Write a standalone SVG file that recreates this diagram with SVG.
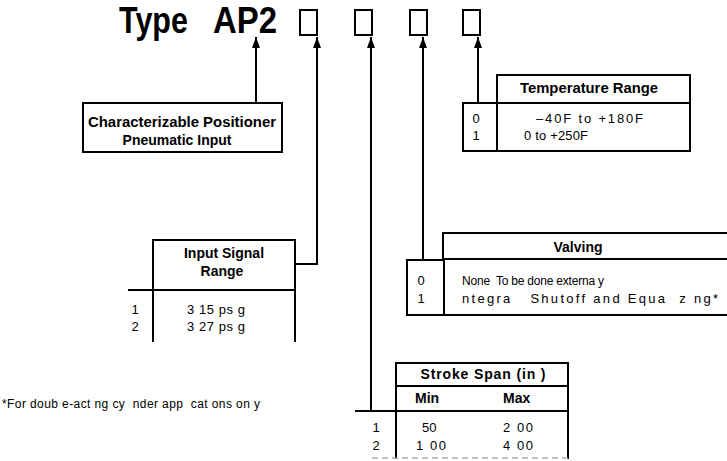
<svg xmlns="http://www.w3.org/2000/svg" width="727" height="461" viewBox="0 0 727 461">
<defs>
<marker id="ah" markerUnits="userSpaceOnUse" markerWidth="12" markerHeight="8" refX="11" refY="4" orient="auto">
<path d="M0,0 L11,4 L0,8 z" fill="#000"/>
</marker>
<style>
.ln{fill:none;stroke:#000;stroke-width:2;stroke-linejoin:miter}
.t{font-family:"Liberation Sans",Arial,sans-serif;font-size:13px;fill:#000}
.b{font-weight:bold;font-size:14px}
.m{text-anchor:middle}
.title{font-family:"Liberation Sans",Arial,sans-serif;font-size:36px;font-weight:bold;fill:#000}
</style>
</defs>
<rect width="727" height="461" fill="#fff"/>

<g id="title">
<text class="title" x="119" y="33" textLength="69" lengthAdjust="spacingAndGlyphs">Type</text>
<text class="title" x="213" y="33" textLength="64" lengthAdjust="spacingAndGlyphs">AP2</text>
<rect class="ln" x="300" y="10" width="17" height="25"/>
<rect class="ln" x="355" y="10" width="17" height="25"/>
<rect class="ln" x="410" y="10" width="17" height="25"/>
<rect class="ln" x="463" y="10" width="17" height="25"/>
</g>

<g id="connectors">
<path class="ln" d="M256,103 V37" marker-end="url(#ah)"/>
<path class="ln" d="M295,264 H317 V37" marker-end="url(#ah)"/>
<path class="ln" d="M371,411 V37" marker-end="url(#ah)"/>
<path class="ln" d="M423,260 V37" marker-end="url(#ah)"/>
<path class="ln" d="M478,103 V37" marker-end="url(#ah)"/>
</g>

<g id="positioner">
<rect class="ln" x="83" y="103" width="199" height="49"/>
<text class="t b m" x="182" y="127" textLength="188" lengthAdjust="spacingAndGlyphs">Characterizable Positioner</text>
<text class="t b m" x="177" y="145">Pneumatic Input</text>
</g>

<g id="input-signal">
<rect class="ln" x="153" y="240" width="142" height="50"/>
<path class="ln" d="M128,290 H295 M153,290 V342 M295,290 V342"/>
<text class="t b m" x="224" y="258">Input Signal</text>
<text class="t b m" x="222" y="276">Range</text>
<text class="t m" x="135" y="314">1</text>
<text class="t m" x="135" y="331">2</text>
<text class="t" x="187" y="314" xml:space="preserve" textLength="58" lengthAdjust="spacing">3 15 ps g</text>
<text class="t" x="187" y="331" xml:space="preserve" textLength="58" lengthAdjust="spacing">3 27 ps g</text>
</g>

<g id="temperature">
<rect class="ln" x="497" y="75" width="193" height="28"/>
<rect class="ln" x="463" y="103" width="34" height="48"/>
<rect class="ln" x="497" y="103" width="193" height="48"/>
<text class="t b m" x="589" y="93" textLength="138" lengthAdjust="spacingAndGlyphs">Temperature Range</text>
<text class="t m" x="476" y="123">0</text>
<text class="t m" x="476" y="140">1</text>
<text class="t" x="536" y="123" textLength="107" lengthAdjust="spacing">–40F to +180F</text>
<text class="t" x="524" y="140" textLength="64" lengthAdjust="spacing">0 to +250F</text>
</g>

<g id="valving">
<path class="ln" d="M730,233 H443 V260 M443,259 H730 M444,315 H730"/>
<rect class="ln" x="407" y="260" width="37" height="55"/>
<text class="t b m" x="578" y="252">Valving</text>
<text class="t m" x="421" y="285">0</text>
<text class="t m" x="421" y="303">1</text>
<text class="t" x="462" y="285" style="font-size:12px" xml:space="preserve" textLength="142" lengthAdjust="spacing">None  To be done externa y</text>
<text class="t" x="462" y="303" xml:space="preserve" textLength="256" lengthAdjust="spacing">ntegra   Shutoff and Equa  z ng*</text>
</g>

<g id="stroke-span">
<rect class="ln" x="396" y="363" width="172" height="23"/>
<path class="ln" d="M396,386 V411 M568,386 V411 M355,411 H568 M396,411 V459 M568,411 V459"/>
<path d="M372,458 H568" stroke="#aaa" stroke-width="1.5" stroke-dasharray="6,4" fill="none"/>
<text class="t b m" x="483" y="379" textLength="125" lengthAdjust="spacing">Stroke Span (in )</text>
<text class="t b" x="415" y="403">Min</text>
<text class="t b" x="503" y="403">Max</text>
<text class="t m" x="376" y="432">1</text>
<text class="t m" x="376" y="450">2</text>
<text class="t" x="422" y="432">50</text>
<text class="t" x="503" y="432" textLength="30" lengthAdjust="spacing">2 00</text>
<text class="t" x="416" y="450" textLength="30" lengthAdjust="spacing">1 00</text>
<text class="t" x="503" y="450" textLength="30" lengthAdjust="spacing">4 00</text>
</g>

<g id="footnote">
<text class="t" x="2" y="408" style="font-size:12px" xml:space="preserve" textLength="258" lengthAdjust="spacing">*For doub e-act ng cy  nder app  cat ons on y</text>
</g>
</svg>
